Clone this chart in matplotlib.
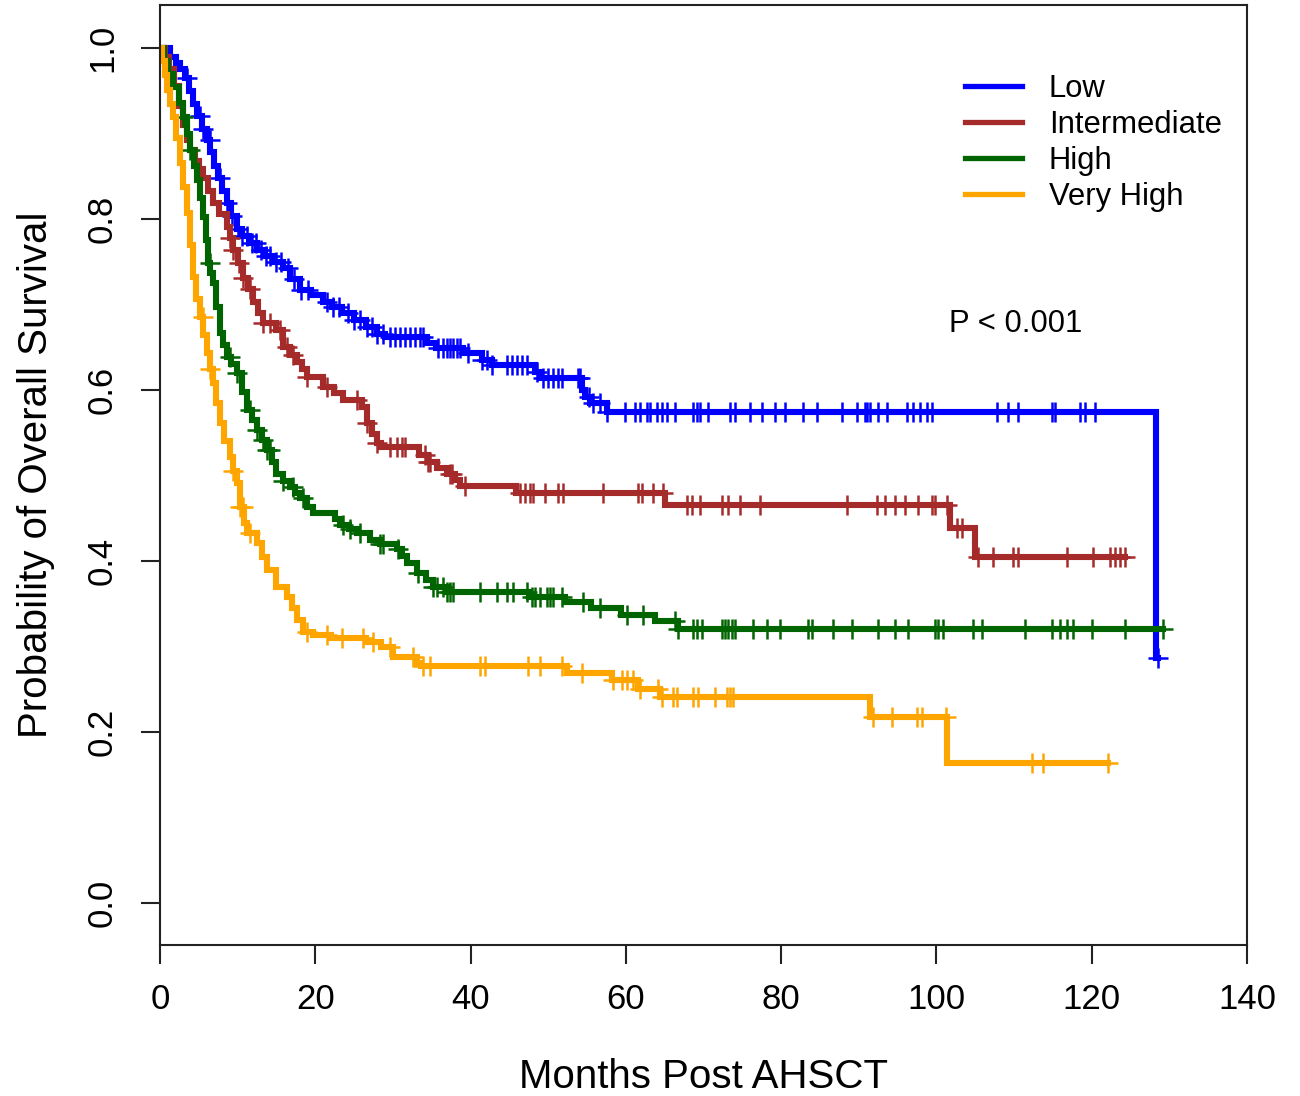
import numpy as np
import matplotlib
matplotlib.use("Agg")
import matplotlib.pyplot as plt
from matplotlib.ticker import FormatStrFormatter

# Kaplan-Meier step points (month of drop, survival after drop)
low_t = [0, 1.3, 2.0, 2.6, 3.2, 3.7, 4.2, 4.8, 5.4, 6.0, 6.5, 7.0, 7.5, 8.0, 8.6, 9.2,
         9.9, 10.6, 11.5, 12.5, 13.5, 14.6, 15.8, 16.8, 18.0, 19.5, 21.0, 22.2, 23.5,
         25.0, 26.5, 28.0, 29.0, 34.4, 35.5, 39.0, 41.5, 42.8, 48.3, 49.0, 54.3, 54.8,
         55.4, 57.6, 128.3]
low_s = [1.0, 0.99, 0.982, 0.975, 0.965, 0.950, 0.935, 0.920, 0.905, 0.893, 0.878, 0.862,
         0.848, 0.833, 0.819, 0.803, 0.788, 0.780, 0.772, 0.764, 0.757, 0.750, 0.743,
         0.730, 0.717, 0.711, 0.703, 0.697, 0.690, 0.682, 0.674, 0.666, 0.662, 0.655,
         0.649, 0.643, 0.635, 0.629, 0.621, 0.614, 0.600, 0.592, 0.585, 0.574, 0.287]
low_cens = [3.5, 5.2, 5.5, 6.4, 7.7, 8.6, 9.3, 10.0, 10.6, 11.2, 11.8, 12.4, 13.0, 13.6,
            14.2, 15.0, 15.6, 16.5, 17.3, 18.2, 19.0, 21.5, 22.3, 23.0, 24.2, 25.0, 25.8,
            26.6, 27.3, 28.0, 28.7, 29.6, 30.3, 30.9, 31.5, 32.2, 32.8, 33.5, 33.9, 35.8,
            36.4, 36.9, 37.3, 37.7, 38.2, 38.6, 39.7, 41.5, 42.1, 42.8, 44.7, 45.3, 46.0,
            46.6, 47.3, 48.6, 49.3, 50.0, 50.6, 51.3, 51.8, 53.8, 54.1, 55.2, 55.8, 56.7,
            57.6, 59.9, 61.2, 61.8, 62.7, 63.1, 64.0, 64.7, 65.3, 66.3, 68.6, 69.2, 69.6,
            70.6, 73.4, 74.1, 76.0, 77.5, 79.2, 80.5, 82.8, 84.6, 87.8, 89.8, 90.8, 91.1,
            91.4, 92.5, 93.6, 96.2, 97.0, 97.9, 98.8, 99.4, 107.8, 109.2, 110.5, 114.9,
            115.3, 118.5, 119.1, 120.4, 128.5]

int_t = [0, 0.6, 1.2, 1.8, 2.4, 3.0, 3.5, 3.9, 4.5, 5.0, 5.5, 6.2, 6.8, 7.6, 8.6, 9.0,
         9.4, 10.0, 10.7, 11.3, 12.0, 12.6, 13.3, 15.0, 15.8, 16.8, 17.6, 18.3, 18.9,
         21.0, 22.4, 23.6, 26.0, 26.7, 27.3, 27.9, 28.5, 33.3, 34.5, 35.7, 37.0, 38.0,
         38.6, 45.8, 65.0, 101.8, 105.0]
int_s = [1.0, 0.99, 0.975, 0.955, 0.932, 0.910, 0.893, 0.881, 0.868, 0.858, 0.848, 0.833,
         0.819, 0.806, 0.791, 0.778, 0.764, 0.748, 0.731, 0.718, 0.703, 0.690, 0.678,
         0.670, 0.650, 0.641, 0.633, 0.624, 0.615, 0.604, 0.596, 0.588, 0.580, 0.561,
         0.549, 0.538, 0.533, 0.524, 0.516, 0.509, 0.502, 0.495, 0.488, 0.480, 0.466,
         0.439, 0.405]
int_cens = [9.0, 9.4, 10.2, 10.7, 11.6, 13.3, 14.2, 15.5, 16.4, 17.1, 18.9, 21.5, 25.4,
            26.7, 27.9, 29.6, 30.5, 31.2, 31.6, 34.1, 34.5, 34.8, 37.4, 37.6, 39.3, 46.4,
            47.0, 47.7, 48.0, 49.6, 51.3, 51.9, 57.1, 61.6, 62.1, 63.5, 64.8, 67.9, 68.5,
            69.6, 72.4, 73.2, 74.7, 77.3, 88.5, 92.3, 93.4, 94.7, 96.0, 97.6, 99.4, 99.8,
            101.4, 102.7, 103.3, 105.4, 107.3, 109.9, 110.5, 116.8, 120.2, 122.4, 123.0,
            123.6, 124.3]

high_t = [0, 0.5, 1.0, 1.7, 2.4, 3.0, 3.5, 3.9, 4.4, 4.8, 5.2, 5.5, 5.9, 6.2, 6.5, 6.8,
          7.2, 7.7, 8.1, 8.6, 9.2, 9.9, 10.5, 11.2, 11.8, 12.5, 13.1, 13.8, 14.4, 15.0,
          15.8, 16.7, 17.4, 18.0, 18.9, 19.7, 22.5, 23.2, 24.3, 25.4, 27.0, 28.3, 30.5,
          31.2, 31.8, 33.1, 34.2, 35.2, 37.0, 47.5, 52.2, 55.5, 59.4, 63.7, 66.7]
high_s = [1.0, 0.985, 0.97, 0.954, 0.936, 0.919, 0.900, 0.881, 0.862, 0.846, 0.825, 0.802,
          0.775, 0.749, 0.737, 0.725, 0.697, 0.667, 0.653, 0.639, 0.630, 0.620, 0.598,
          0.577, 0.565, 0.553, 0.541, 0.530, 0.516, 0.502, 0.494, 0.486, 0.480, 0.474,
          0.463, 0.456, 0.449, 0.442, 0.437, 0.433, 0.425, 0.420, 0.414, 0.406, 0.398,
          0.386, 0.378, 0.370, 0.364, 0.358, 0.352, 0.345, 0.337, 0.330, 0.321]
high_cens = [3.0, 3.9, 6.4, 9.0, 9.9, 11.6, 12.5, 13.3, 13.8, 14.2, 15.8, 17.1, 18.4, 23.6,
             24.5, 25.8, 28.3, 28.7, 30.7, 33.2, 35.2, 35.7, 36.5, 37.0, 37.4, 37.7, 41.2,
             43.4, 44.7, 45.5, 47.3, 47.9, 48.3, 48.9, 49.8, 50.2, 50.6, 51.8, 54.5, 56.7,
             60.1, 62.2, 66.3, 66.7, 68.6, 69.2, 69.8, 72.4, 72.8, 73.2, 73.7, 74.1, 76.4,
             78.2, 79.9, 83.5, 84.0, 86.7, 89.1, 92.5, 94.7, 96.3, 99.8, 100.2, 100.8,
             104.7, 105.9, 111.4, 114.9, 115.9, 116.8, 117.6, 120.0, 124.3, 129.2]

vhigh_t = [0, 0.3, 0.6, 0.9, 1.3, 1.7, 2.1, 2.6, 3.0, 3.5, 3.9, 4.25, 4.7, 5.2, 5.6, 6.05,
           6.4, 6.8, 7.2, 7.7, 8.3, 9.0, 9.4, 9.9, 10.3, 10.8, 11.2, 12.5, 13.1, 13.8,
           15.0, 16.4, 17.0, 17.6, 18.4, 19.7, 22.0, 26.5, 28.5, 30.0, 33.1, 33.6, 52.4,
           58.2, 61.6, 64.4, 91.4, 101.4]
vhigh_s = [1.0, 0.985, 0.968, 0.951, 0.935, 0.919, 0.895, 0.865, 0.838, 0.807, 0.770,
           0.732, 0.706, 0.685, 0.664, 0.643, 0.625, 0.608, 0.585, 0.561, 0.540, 0.522,
           0.505, 0.491, 0.463, 0.445, 0.433, 0.421, 0.405, 0.389, 0.370, 0.358, 0.345,
           0.331, 0.317, 0.313, 0.310, 0.305, 0.300, 0.288, 0.281, 0.277, 0.269, 0.261,
           0.250, 0.241, 0.217, 0.164]
vhigh_cens = [5.5, 6.4, 9.4, 10.3, 10.7, 11.6, 18.9, 21.5, 23.4, 26.1, 27.4, 29.6, 32.6,
              33.9, 34.8, 41.2, 41.9, 47.4, 48.9, 51.8, 54.4, 58.3, 59.5, 60.1, 60.9, 61.8,
              64.1, 64.7, 66.1, 66.6, 68.6, 69.3, 71.5, 73.0, 73.4, 73.8, 91.8, 94.3, 97.5,
              98.1, 101.2, 112.3, 113.7, 122.1]

groups = ["Low", "Intermediate", "High", "Very High"]
colors = ["#0000FF", "#A52A2A", "#006400", "#FFA500"]
curves = [(low_t, low_s, low_cens), (int_t, int_s, int_cens),
          (high_t, high_s, high_cens), (vhigh_t, vhigh_s, vhigh_cens)]

FONT = "Liberation Sans"
plt.rcParams["font.family"] = [FONT, "DejaVu Sans"]


def main():
    fig = plt.figure(figsize=(13, 10.96), dpi=100)
    ax = fig.add_axes([0.12308, 0.13777, 0.83615, 0.85766])

    for name, col, (t, s, cens) in zip(groups, colors, curves):
        t = np.asarray(t, float)
        s = np.asarray(s, float)
        cens = np.asarray(cens, float)
        t_end = max(t[-1], cens.max())
        tt = np.append(t, t_end)
        ss = np.append(s, s[-1])
        ax.step(tt, ss, where="post", color=col, lw=4.4, label=name,
                solid_joinstyle="miter")
        # censor marks sit on the curve at their time
        idx = np.searchsorted(t, cens, side="right") - 1
        ax.plot(cens, s[idx], ls="none", marker="+", ms=14, mew=1.8, color=col)

    ax.set_xlim(0, 140)
    ax.set_ylim(-0.0491, 1.0503)
    ax.set_xticks(np.arange(0, 141, 20))
    ax.set_yticks(np.arange(0, 1.01, 0.2))
    ax.yaxis.set_major_formatter(FormatStrFormatter("%.1f"))
    ax.tick_params(length=13.5, width=1.5, labelsize=25, pad=14, color="#222222")
    ax.tick_params(axis="y", labelrotation=90, pad=16)
    for lab in ax.get_yticklabels():
        lab.set_va("center")
    for sp in ax.spines.values():
        sp.set_linewidth(1.5)
        sp.set_color("#222222")

    ax.set_xlabel("Months Post AHSCT", fontsize=29, labelpad=30)
    ax.set_ylabel("Probability of Overall Survival", fontsize=29, labelpad=22)

    leg = ax.legend(loc="upper left", bbox_to_anchor=(0.7406, 0.9266), frameon=False,
                    fontsize=22.3, handlelength=1.84, handletextpad=0.87,
                    labelspacing=0.19, borderpad=0, borderaxespad=0)
    for h in leg.get_lines():
        h.set_linewidth(3.8)

    ax.text(101.6, 0.677, "P < 0.001", fontsize=22.3, ha="left", va="center")

    fig.savefig("out.png", dpi=100)


if __name__ == "__main__":
    main()
